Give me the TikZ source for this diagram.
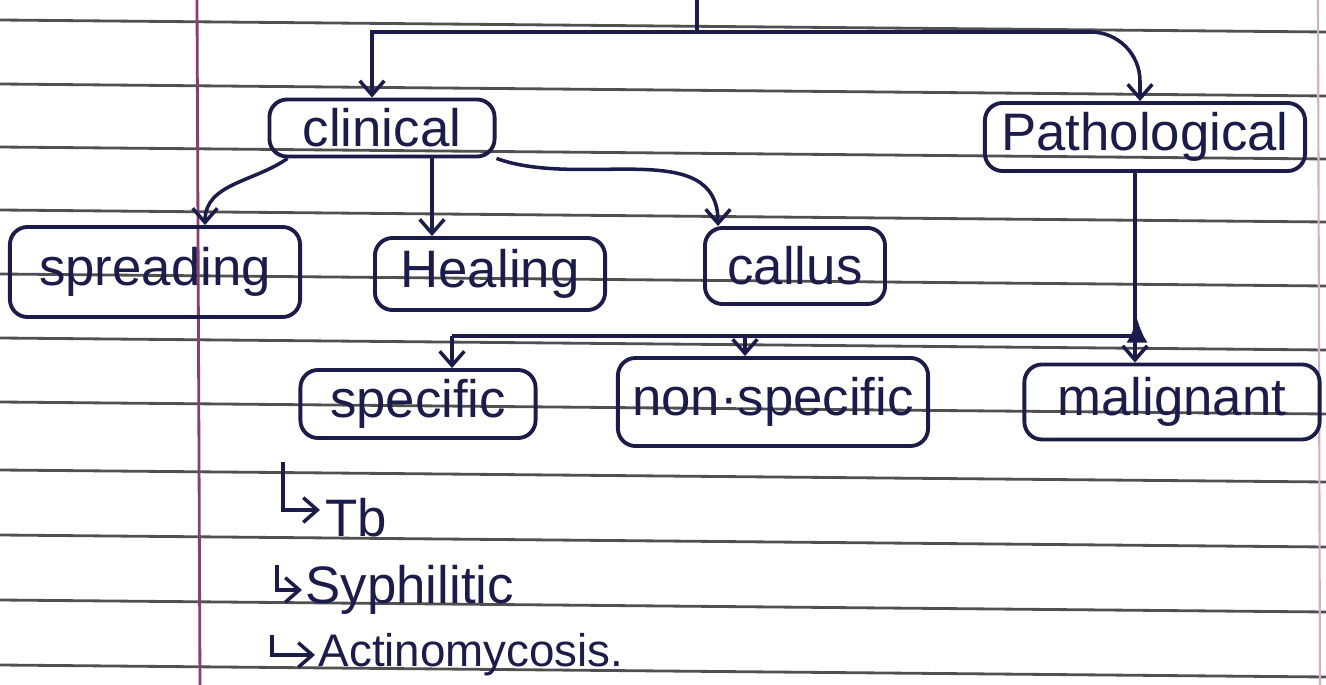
\documentclass[tikz,border=0pt]{standalone}
\usepackage{fontspec}
\setmainfont{Liberation Sans}
\usetikzlibrary{arrows.meta,calc}
\definecolor{ink}{RGB}{28,28,75}
\definecolor{rulecol}{RGB}{80,80,80}
\definecolor{margincol}{RGB}{140,60,110}
\tikzset{
 box/.style={draw=ink, line width=1.1pt, rounded corners=5pt, text=ink, font=\fontsize{15}{18}\selectfont, inner sep=0pt},
 conn/.style={draw=ink, line width=1pt, -{Straight Barb[length=4pt,width=7pt]}},
 plain/.style={draw=ink, line width=1pt},
 uptip/.style={draw=ink, fill=ink, line width=1pt, -{Latex[length=7pt,width=6pt]}},
 item/.style={text=ink, font=\fontsize{15}{18}\selectfont, inner sep=0pt, anchor=west},
 ruled/.style={draw=rulecol, line width=0.8pt},
}
\begin{document}
\begin{tikzpicture}[x=0.01cm,y=-0.01cm]
\useasboundingbox (0,0) rectangle (1326,685);
\fill[white] (0,0) rectangle (1326,685);
\foreach \y in {20,84,147,210,274,338,402,470,535,600,665} \draw[ruled] (0,\y) -- (1326,\y+12);
\draw[margincol, line width=0.8pt] (197,0) -- (200,685);
\draw[margincol!40, line width=0.6pt] (1318,0) -- (1320,685);

% boxes
\node[box, minimum width=2.25cm, minimum height=0.57cm] (clinical) at (382,128) {clinical};
\node[box, minimum width=3.2cm, minimum height=0.68cm] (patho) at (1145,137) {Pathological};
\node[box, minimum width=2.9cm, minimum height=0.9cm] (spread) at (155,272) {spreading};
\node[box, minimum width=2.3cm, minimum height=0.72cm] (heal) at (490,274) {Healing};
\node[box, minimum width=1.8cm, minimum height=0.76cm] (callus) at (795,266) {callus};
\node[box, minimum width=2.35cm, minimum height=0.68cm] (spec) at (418,404) {specific};
\node[box, minimum width=3.1cm, minimum height=0.88cm] (nonspec) at (773,402) {non·specific};
\node[box, minimum width=2.95cm, minimum height=0.75cm] (malig) at (1172,402) {malignant};

% top branch
\coordinate (stem) at (697,0);
\coordinate (jTop) at (697,32);
\draw[plain] (stem) -- (jTop);
\draw[conn] (jTop) -| ($(clinical.north)+(-10,0)$);
\draw[conn, rounded corners=14pt] (jTop) -| ($(patho.north)+(-5,0)$);

% clinical children
\draw[conn] ($(clinical.south west)+(20,0)$) to[out=215,in=90] ($(spread.north)+(50,0)$);
\coordinate (ch) at ($(clinical.south)+(50,0)$);
\draw[conn] (ch) -- (ch |- heal.north);
\draw[conn] (clinical.south east) to[out=-20,in=90] ($(callus.north west)+(15,0)$);

% pathological branch
\coordinate (px) at ($(patho.south)+(-10,0)$);
\draw[conn] (px) -- (px |- malig.north);
\coordinate (jR) at (1137,336);
\coordinate (upTip) at (1137,318);
\coordinate (jL) at (452,336);
\coordinate (jM) at (745,336);
\draw[plain] (jL) -- (jR);
\draw[uptip] (jR) -- (upTip);
\draw[conn] (jL) -- (jL |- spec.north);
\draw[conn] (jM) -- (jM |- nonspec.north);

% list
\node[item] (tb) at (325,518) {Tb};
\node[item] (syph) at (305,590) {Syphilitic};
\node[item, font=\fontsize{13}{16}\selectfont] (actino) at (318,655) {Actinomycosis.};
\coordinate (tbStem) at (283,462);
\coordinate (syStem) at (277,565);
\coordinate (acStem) at (272,635);
\draw[conn] (tbStem) |- ($(tb.west)+(-5,-8)$);
\draw[conn] (syStem) |- ($(syph.west)+(-3,0)$);
\draw[conn] (acStem) |- ($(actino.west)+(-3,0)$);
\end{tikzpicture}
\end{document}
